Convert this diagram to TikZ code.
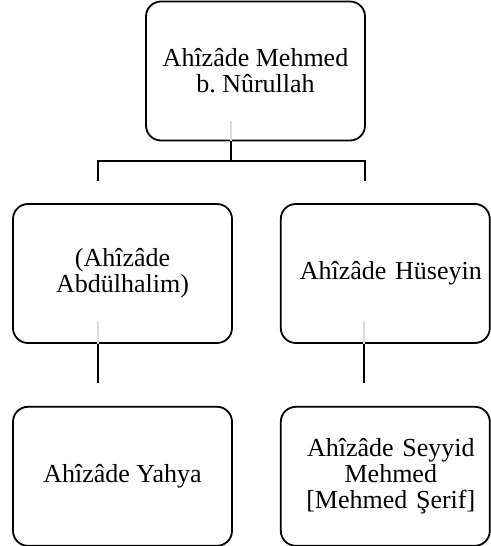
\documentclass[tikz,border=0pt]{standalone}
\usepackage{fontspec}
\setmainfont{Liberation Serif}
\frenchspacing
\usetikzlibrary{positioning}

\begin{document}
\begin{tikzpicture}[
  x=1pt, y=-1pt,
  frame/.style = {draw, fill=white, line width=1.8pt, rounded corners=15pt, minimum height=139pt, font=\fontsize{26}{26}\selectfont},
  box/.style = {frame, minimum width=219pt, align=center},
  rbox/.style = {frame, minimum width=209pt, text width=198pt, inner xsep=5.5pt,
                 execute at begin node={\centering\advance\leftskip by 11pt}},
  conn/.style = {line width=2pt},
  stub/.style = {line width=2pt, draw=black!14},
  node distance=62pt and 47pt
]
\useasboundingbox (0,0) rectangle (490,546);

% Boxes
\node[box] (top) at (255.5,71) {Ahîzâde Mehmed\\b. Nûrullah};
\node[box] (abdulhalim) at (122.5,273.5) {(Ahîzâde\\Abdülhalim)};
\node[rbox, right=of abdulhalim] (huseyin) {Ahîzâde Hüseyin};
\node[box, below=of abdulhalim] (yahya) {Ahîzâde Yahya};
\node[rbox, below=of huseyin] (seyyid) {Ahîzâde Seyyid\\Mehmed\\{[}Mehmed Şerif{]}};

% Junction points
\coordinate (fork) at (231,161);
\coordinate (jL) at (98,181);
\coordinate (jR) at (364.5,181);
\coordinate (kL) at (98,383);
\coordinate (kR) at (364,383);

% Light stubs inside the boxes
\draw[stub] (top.south -| fork) -- ++(0,-20);
\draw[stub] (abdulhalim.south -| kL) -- ++(0,-23);
\draw[stub] (huseyin.south -| kR) -- ++(0,-23);

% Connectors
\draw[conn] (top.south -| fork) -- (fork);
\draw[conn] (jL) |- (fork) -| (jR);
\draw[conn] (abdulhalim.south -| kL) -- (kL);
\draw[conn] (huseyin.south -| kR) -- (kR);
\end{tikzpicture}
\end{document}
